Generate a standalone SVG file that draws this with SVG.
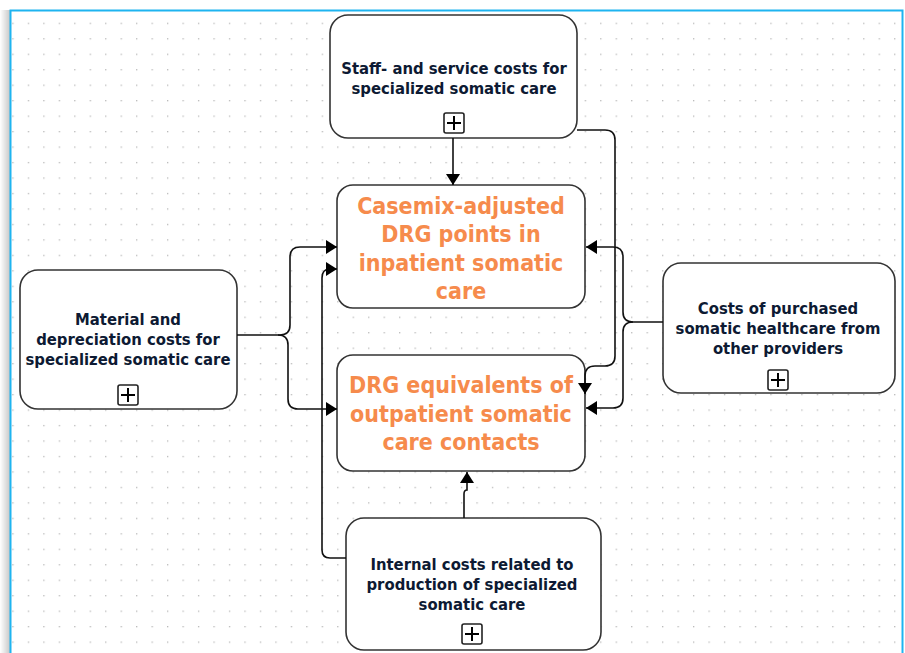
<svg xmlns="http://www.w3.org/2000/svg" width="905" height="653" viewBox="0 0 905 653">
<defs>
<pattern id="grid" x="12.3" y="22.7" width="15.47" height="15.47" patternUnits="userSpaceOnUse">
<rect x="0" y="0" width="1.3" height="1.3" fill="#b8b8b8"/>
</pattern>
<linearGradient id="shadow" x1="0" y1="0" x2="1" y2="0">
<stop offset="0" stop-color="#ffffff"/>
<stop offset="1" stop-color="#c8c8c8"/>
</linearGradient>
<marker id="arr" viewBox="0 0 11 14" refX="11" refY="7" markerWidth="11" markerHeight="14" markerUnits="userSpaceOnUse" orient="auto">
<path d="M0,0 L11,7 L0,14 Z" fill="#000"/>
</marker>
<g id="plus">
<rect x="-10" y="-10" width="20" height="20" rx="2" fill="#fff" stroke="#222" stroke-width="1.6"/>
<path d="M-7,0 H7 M0,-7 V7" stroke="#000" stroke-width="2"/>
</g>
</defs>
<style>
.box{fill:#fff;stroke:#333;stroke-width:1.6}
.t{font-family:"DejaVu Sans Condensed","DejaVu Sans",sans-serif;font-stretch:condensed;font-weight:bold;font-size:16.5px;fill:#0d1a33;text-anchor:middle}
.o{font-family:"DejaVu Sans Condensed","DejaVu Sans",sans-serif;font-stretch:condensed;font-weight:bold;font-size:23px;fill:#f68b4c;text-anchor:middle}
.c{fill:none;stroke:#111;stroke-width:1.6}
</style>
<rect x="0" y="0" width="905" height="653" fill="#fff"/>
<rect x="0" y="10" width="10" height="643" fill="url(#shadow)"/>
<rect x="11" y="11" width="892" height="642" fill="url(#grid)"/>
<rect x="10.5" y="10.5" width="892" height="660" fill="none" stroke="#1eb4f0" stroke-width="2"/>

<g id="staff">
<rect class="box" x="330" y="15" width="247" height="123" rx="18"/>
<text class="t" x="454" y="74">Staff- and service costs for</text>
<text class="t" x="454" y="94">specialized somatic care</text>
<use href="#plus" x="454" y="123"/>
</g>
<g id="casemix">
<rect class="box" x="337" y="185" width="248" height="123" rx="16"/>
<text class="o" x="461" y="214">Casemix-adjusted</text>
<text class="o" x="461" y="242">DRG points in</text>
<text class="o" x="461" y="271">inpatient somatic</text>
<text class="o" x="461" y="299">care</text>
</g>
<g id="drg">
<rect class="box" x="337" y="355" width="248" height="116" rx="16"/>
<text class="o" x="461" y="393">DRG equivalents of</text>
<text class="o" x="461" y="422">outpatient somatic</text>
<text class="o" x="461" y="450">care contacts</text>
</g>
<g id="material">
<rect class="box" x="20" y="270" width="217" height="139" rx="18"/>
<text class="t" x="128" y="325">Material and</text>
<text class="t" x="128" y="345">depreciation costs for</text>
<text class="t" x="128" y="365">specialized somatic care</text>
<use href="#plus" x="128" y="395"/>
</g>
<g id="purchased">
<rect class="box" x="663" y="263" width="232" height="130" rx="18"/>
<text class="t" x="778" y="314">Costs of purchased</text>
<text class="t" x="778" y="334">somatic healthcare from</text>
<text class="t" x="778" y="354">other providers</text>
<use href="#plus" x="778" y="380"/>
</g>
<g id="internal">
<rect class="box" x="346" y="518" width="255" height="132" rx="18"/>
<text class="t" x="472" y="570">Internal costs related to</text>
<text class="t" x="472" y="590">production of specialized</text>
<text class="t" x="472" y="610">somatic care</text>
<use href="#plus" x="472" y="634"/>
</g>

<g id="connectors">
<path class="c" d="M453,138 V185" marker-end="url(#arr)"/>
<path class="c" d="M577,130 H605 Q615,130 615,140 V356 Q615,366 605,366 H595 Q585,366 585,376 V394" marker-end="url(#arr)"/>
<path class="c" d="M663,322 H633 Q623,322 623,312 V257 Q623,247 613,247 H586" marker-end="url(#arr)"/>
<path class="c" d="M633,322 Q623,322 623,332 V398 Q623,408 613,408 H586" marker-end="url(#arr)"/>
<path class="c" d="M237,335 H280 Q290,335 290,325 V257 Q290,247 300,247 H337" marker-end="url(#arr)"/>
<path class="c" d="M278,335 Q288,335 288,345 V399 Q288,409 298,409 H337" marker-end="url(#arr)"/>
<path class="c" d="M346,558 H330 Q322,558 322,550 V278 Q322,269 330,269 H337" marker-end="url(#arr)"/>
<path class="c" d="M464,518 V494 Q464,490 467,490 V472" marker-end="url(#arr)"/>
</g>
</svg>
